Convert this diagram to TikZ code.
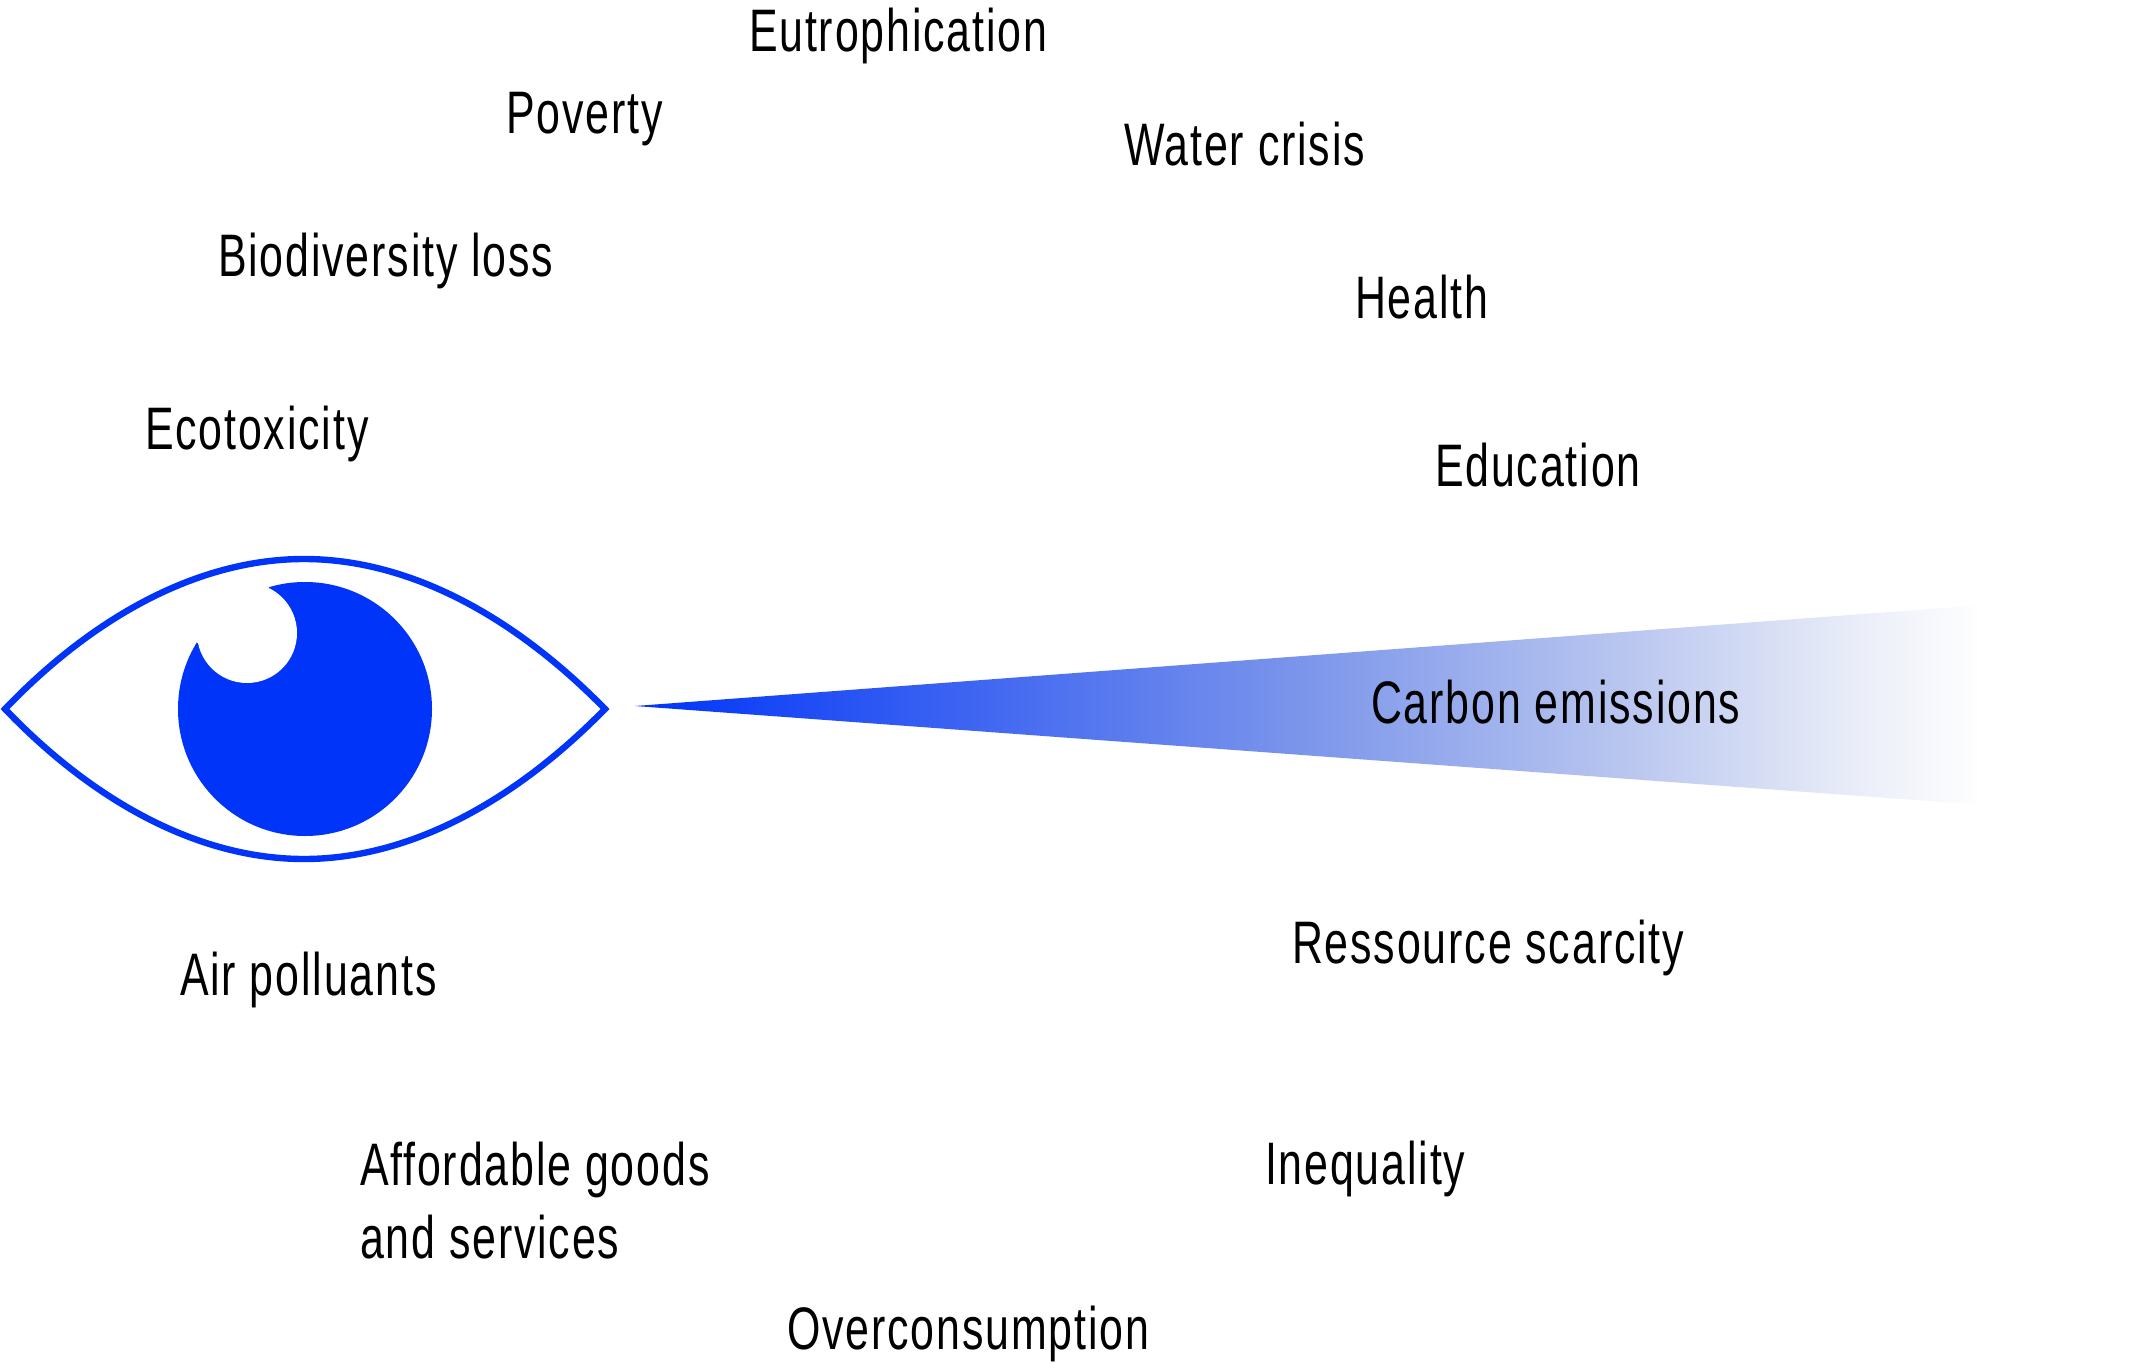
\documentclass[tikz,border=0pt]{standalone}
\usepackage{fontspec}
\setmainfont[FakeStretch=0.715,LetterSpace=3.1]{Liberation Sans}
\definecolor{eyeblue}{RGB}{0,52,248}
\definecolor{fadeA}{rgb}{0.49,0.59,0.92}
\definecolor{fadeB}{rgb}{0.73,0.78,0.94}
\definecolor{fadeC}{rgb}{0.91,0.925,0.97}
\pgfdeclarehorizontalshading{fadewedge}{100bp}{
  color(0bp)=(eyeblue);
  color(25bp)=(eyeblue);
  color(50bp)=(fadeA);
  color(62bp)=(fadeB);
  color(70bp)=(fadeC);
  color(75bp)=(white);
  color(100bp)=(white)}
\tikzset{
  lbl/.style={anchor=base west,inner sep=0pt,outer sep=0pt,text=black,font=\fontsize{30}{36}\selectfont,align=left},
  eyeline/.style={draw=eyeblue,line width=3.2pt,line join=miter,fill=white}
}
\begin{document}
\begin{tikzpicture}[x=0.5pt,y=-0.5pt]
\useasboundingbox (0,0) rectangle (2140,1364);
% eye
\path[eyeline] (5,709) .. controls (95,615) and (200,559) .. (304,559) .. controls (408,559) and (513,615) .. (605,709) .. controls (513,803) and (408,859) .. (304,859) .. controls (200,859) and (95,803) .. (5,709) -- cycle;
\fill[eyeblue] (305,709) circle[radius=63.5pt];
\fill[white] (247,633) circle[radius=25pt];
\fill[white] (247,633) -- (197,643) -- (190,600) -- (262,570) -- (269,587) -- cycle;
% wedge
\shade[shading=fadewedge] (635,706) -- (1983,605) -- (1983,805) -- cycle;
% labels
\node[lbl] (eutro) at (749,52) {Eutrophication};
\node[lbl] (pov) at (506,134) {Poverty};
\node[lbl] (water) at (1124,166) {Water crisis};
\node[lbl] (bio) at (218,277) {Biodiversity loss};
\node[lbl] (health) at (1355,318) {Health};
\node[lbl] (eco) at (145,449) {Ecotoxicity};
\node[lbl] (edu) at (1435,486) {Education};
\node[lbl] (carbon) at (1371,723) {Carbon emissions};
\node[lbl] (res) at (1292,963) {Ressource scarcity};
\node[lbl] (air) at (180,995) {Air polluants};
\node[lbl] (ineq) at (1265,1184) {Inequality};
\node[lbl] (afford) at (360,1185) {Affordable goods};
\node[lbl] (andserv) at (360,1258) {and services};
\node[lbl] (over) at (787,1349) {Overconsumption};
\end{tikzpicture}
\end{document}
